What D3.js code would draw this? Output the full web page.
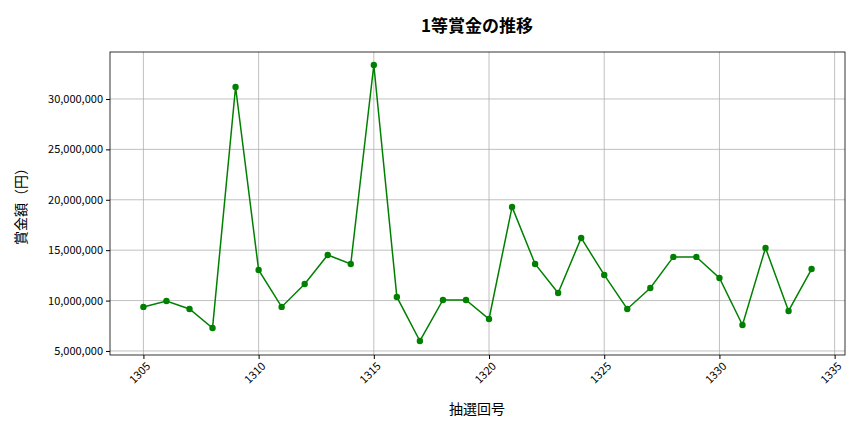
<!DOCTYPE html><html><head><meta charset="utf-8">
<script src="https://cdn.jsdelivr.net/npm/d3@7"></script>
<style>body{margin:0;background:#fff}text{font-family:"Noto Sans CJK JP","Noto Sans",sans-serif}</style></head><body>
<svg id="c" width="864" height="432"></svg>
<script>
const draws=[1305,1306,1307,1308,1309,1310,1311,1312,1313,1314,1315,1316,1317,1318,1319,1320,1321,1322,1323,1324,1325,1326,1327,1328,1329,1330,1331,1332,1333,1334];
const prizes=[9370000,9960000,9170000,7280000,31190000,13040000,9370000,11650000,14520000,13630000,33370000,10360000,5990000,10060000,10060000,8170000,19290000,13630000,10750000,16210000,12540000,9170000,11250000,14330000,14330000,12240000,7580000,15220000,8970000,13130000];
const xTicks=[1305,1310,1315,1320,1325,1330,1335];
const yTicks=[5e6,10e6,15e6,20e6,25e6,30e6];
const svg=d3.select("#c");
const L=110,R=845,T=52,B=355;
const x=d3.scaleLinear().domain([1303.55,1335.45]).range([L,R]);
const y=d3.scaleLinear().domain([4.6e6,34.66e6]).range([B,T]);
const g=svg.append("g");
g.selectAll(".gx").data(xTicks).join("line").attr("x1",d=>x(d)).attr("x2",d=>x(d)).attr("y1",T).attr("y2",B).attr("stroke","#b0b0b0").attr("stroke-width",0.8);
g.selectAll(".gy").data(yTicks).join("line").attr("y1",d=>y(d)).attr("y2",d=>y(d)).attr("x1",L).attr("x2",R).attr("stroke","#b0b0b0").attr("stroke-width",0.8);
svg.append("g").attr("transform",`translate(0,${B})`).call(d3.axisBottom(x).tickValues(xTicks).tickFormat(d3.format("d")).tickSize(4))
 .call(a=>a.select(".domain").remove())
 .selectAll("text").attr("font-size",11).attr("text-anchor","end").attr("transform","rotate(-45)").attr("dx","-0.3em").attr("dy","0.6em");
svg.append("g").attr("transform",`translate(${L},0)`).call(d3.axisLeft(y).tickValues(yTicks).tickFormat(d3.format(",")).tickSize(4))
 .call(a=>a.select(".domain").remove()).selectAll("text").attr("font-size",11);
svg.append("rect").attr("x",L).attr("y",T).attr("width",R-L).attr("height",B-T).attr("fill","none").attr("stroke","#000").attr("stroke-width",0.8);
svg.append("path").datum(draws.map((d,i)=>[d,prizes[i]])).attr("fill","none").attr("stroke","green").attr("stroke-width",1.5)
 .attr("d",d3.line().x(d=>x(d[0])).y(d=>y(d[1])));
svg.selectAll(".pt").data(draws).join("circle").attr("cx",d=>x(d)).attr("cy",(d,i)=>y(prizes[i])).attr("r",3.2).attr("fill","green");
svg.append("text").attr("x",477).attr("y",32).attr("text-anchor","middle").attr("font-size",17).attr("font-weight","bold").text("1等賞金の推移");
svg.append("text").attr("x",477).attr("y",414).attr("text-anchor","middle").attr("font-size",14).text("抽選回号");
svg.append("text").attr("transform","translate(26,203) rotate(-90)").attr("text-anchor","middle").attr("font-size",14).text("賞金額（円）");
</script></body></html>
